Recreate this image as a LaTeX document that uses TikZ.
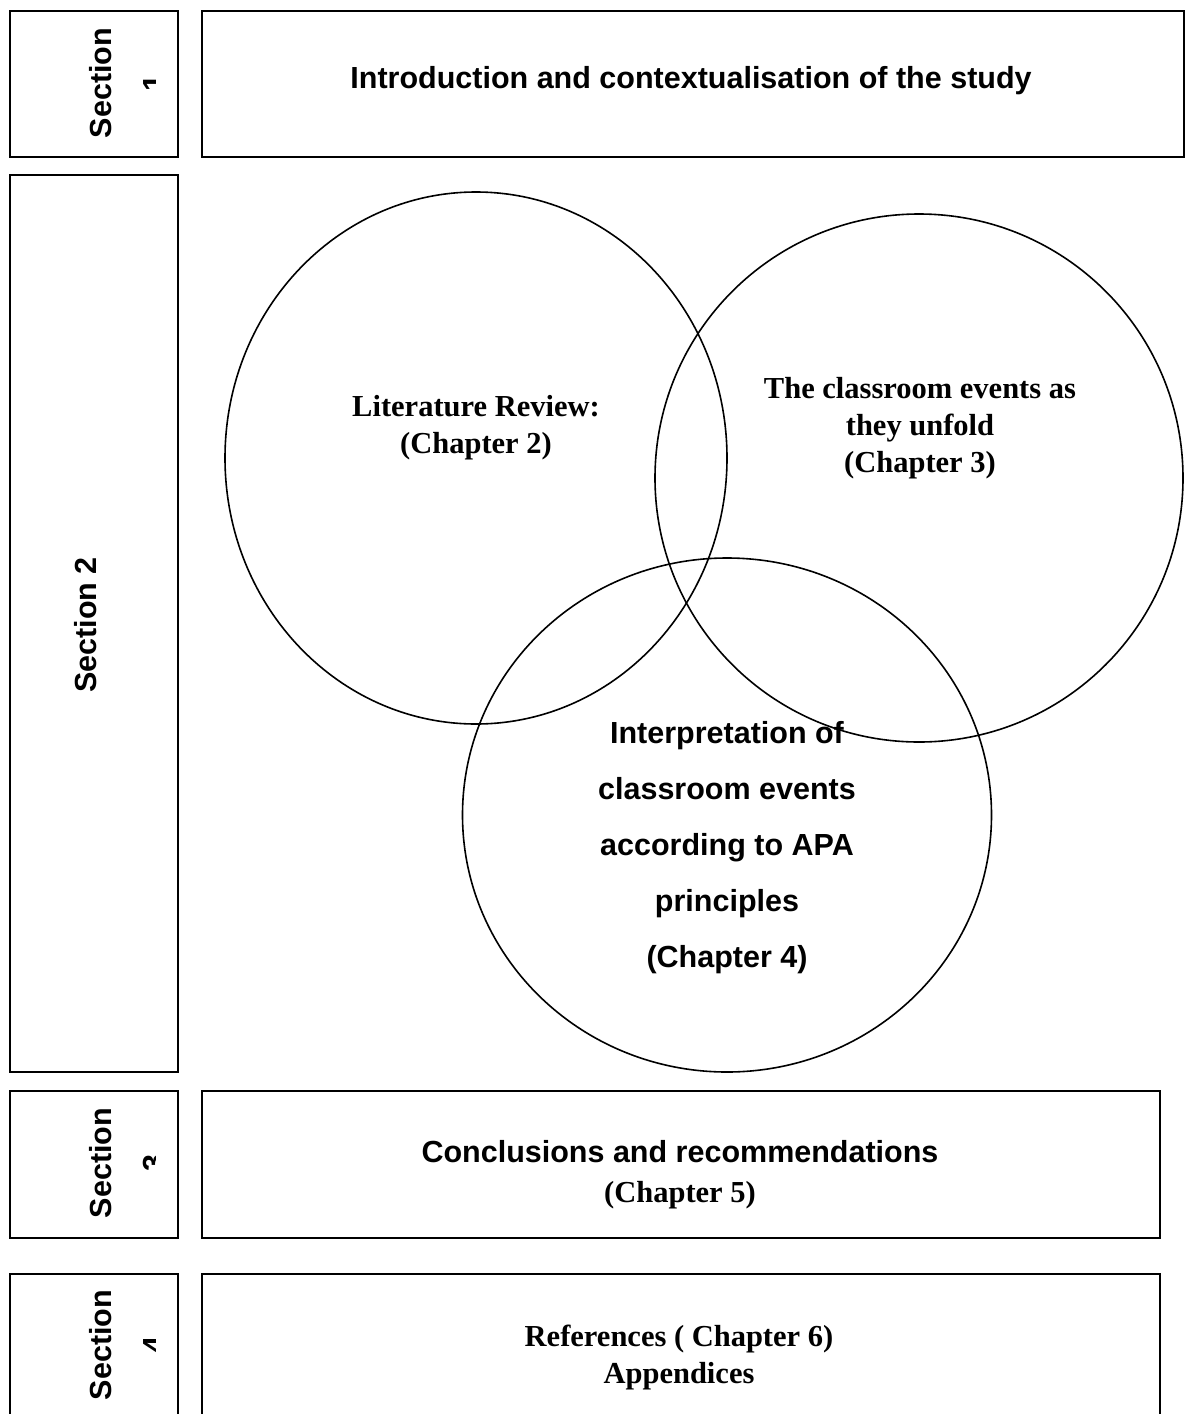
\documentclass[tikz,border=0pt]{standalone}
\usepackage{fontspec}
\setmainfont{Liberation Sans}
\newfontfamily\serifface{Liberation Serif}
\usepackage{tikz}
\usetikzlibrary{shapes.geometric}

\begin{document}
\begin{tikzpicture}[x=1pt, y=-1pt, line width=1.6pt,
  frame/.style={draw, rectangle, anchor=north west, inner sep=0pt},
  ring/.style={draw, ellipse, inner sep=0pt, line width=1.6pt},
  txt/.style={align=center, font=\fontsize{30.5}{36}\selectfont\bfseries},
  stxt/.style={align=center, font=\fontsize{30.5}{37}\selectfont\serifface\bfseries}]
\path[use as bounding box, clip] (0,0) rectangle (1187,1414);
% section boxes
\node[frame, minimum width=168pt, minimum height=146pt] (sec1) at (9,10) {};
\node[frame, minimum width=982pt, minimum height=146pt] (intro) at (201,10) {};
\node[frame, minimum width=168pt, minimum height=897pt] (sec2) at (9,174) {};
\node[frame, minimum width=168pt, minimum height=147pt] (sec3) at (9,1090) {};
\node[frame, minimum width=958pt, minimum height=147pt] (concl) at (201,1090) {};
\node[frame, minimum width=168pt, minimum height=170pt] (sec4) at (9,1273) {};
\node[frame, minimum width=958pt, minimum height=170pt] (refs) at (201,1273) {};
% section labels
\node[txt, rotate=90] (sec2txt) at (86,625) {Section 2};
\foreach \n/\y in {1/83, 3/1163, 4/1345} {
  \node[txt, rotate=90] (sec\n txt) at (101,\y) {Section};
  \begin{scope}
    \clip (9,\y-80) rectangle (155,\y+80);
    \node[txt, rotate=90] (sec\n num) at (154,\y) {\n};
  \end{scope}
}
% circles
\node[ring, minimum width=502pt, minimum height=532pt] (lit) at (476,458) {};
\node[ring, minimum width=528pt, minimum height=528pt] (events) at (919,478) {};
\node[ring, minimum width=529pt, minimum height=514pt] (interp) at (727,815) {};
% texts
\node[txt] (introtxt) at (691,81) {Introduction and contextualisation of the study};
\node[stxt] (littxt) at (476,428) {Literature Review:\\(Chapter 2)};
\node[stxt] (eventstxt) at (920,428) {The classroom events as\\they unfold\\(Chapter 3)};
\node[txt, font=\fontsize{30.5}{56}\selectfont\bfseries] (interptxt) at (727,848)
  {Interpretation of\\classroom events\\according to APA\\principles\\(Chapter 4)};
\node[txt, font=\fontsize{30.5}{40}\selectfont\bfseries] (concltxt) at (680,1175)
  {Conclusions and recommendations\\{\serifface\bfseries(Chapter 5)}};
\node[stxt] (refstxt) at (679,1357) {References ( Chapter 6)\\Appendices};
\end{tikzpicture}
\end{document}
